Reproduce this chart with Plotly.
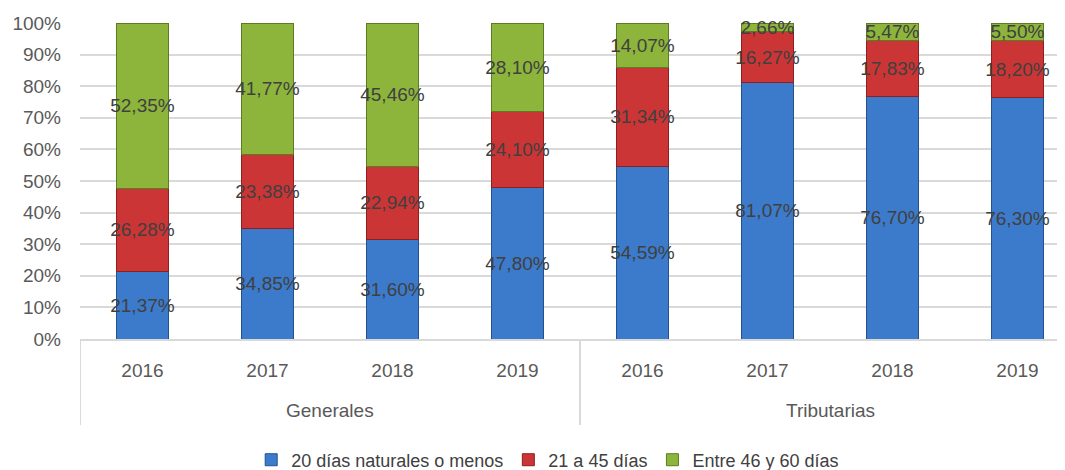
import plotly.graph_objects as go

years = ["2016", "2017", "2018", "2019", "2016", "2017", "2018", "2019"]
groups = ["Generales", "Tributarias"]
series_names = ["20 días naturales o menos", "21 a 45 días", "Entre 46 y 60 días"]
blue_vals = [21.37, 34.85, 31.60, 47.80, 54.59, 81.07, 76.70, 76.30]
red_vals = [26.28, 23.38, 22.94, 24.10, 31.34, 16.27, 17.83, 18.20]
green_vals = [52.35, 41.77, 45.46, 28.10, 14.07, 2.66, 5.47, 5.50]
y_ticks = list(range(0, 101, 10))

colors = ["#3C7BCB", "#CC3535", "#8DB53C"]
edges = ["#24518C", "#8E1F1F", "#5E7A22"]
FONT = "Liberation Sans, Arial"
TXT = "#404040"

x = list(range(len(years)))
fig = go.Figure()
for name, vals, c, e in zip(series_names, [blue_vals, red_vals, green_vals], colors, edges):
    fig.add_trace(go.Bar(
        x=x, y=vals, name=name, width=0.41,
        marker=dict(color=c, line=dict(color=e, width=1)),
        text=[f"{v:.2f}%".replace(".", ",") for v in vals],
        textposition="inside", insidetextanchor="middle", textangle=0,
        constraintext="none",
        textfont=dict(family=FONT, size=19, color=TXT),
        cliponaxis=False,
    ))

fig.update_layout(
    barmode="stack",
    width=1065, height=470,
    margin=dict(l=72, r=0, t=15, b=139, autoexpand=False),
    plot_bgcolor="white", paper_bgcolor="white",
    font=dict(family=FONT, size=19, color="#595959"),
    legend=dict(orientation="h", x=0.471, xanchor="center", y=-0.383, yanchor="middle",
                font=dict(family=FONT, size=18, color="#404040"),
                itemwidth=30, tracegroupgap=0, traceorder="normal"),
    showlegend=True,
)
fig.update_xaxes(
    range=[-0.5, 7.444], tickmode="array", tickvals=x, ticktext=years,
    showgrid=False, showline=True, linecolor="#D9D9D9", linewidth=2,
    ticks="", ticklabelstandoff=13, tickfont=dict(family=FONT, size=19, color="#595959"),
    zeroline=False, automargin=False,
)
fig.update_yaxes(
    range=[0, 100], tickmode="array", tickvals=y_ticks,
    ticktext=[f"{t}%" for t in y_ticks],
    showgrid=True, gridcolor="#D9D9D9", gridwidth=2,
    zeroline=False, showline=False, ticks="", automargin=False,
    ticklabelstandoff=18,
    tickfont=dict(family=FONT, size=19, color="#595959"),
)

# group labels and separators
for gi, g in enumerate(groups):
    fig.add_annotation(x=gi * 4 + 1.5, y=-0.225, xref="x", yref="paper", text=g,
                       yanchor="middle", xanchor="center",
                       showarrow=False, font=dict(family=FONT, size=19, color="#595959"))
for sx in [-0.5, 3.5, 7.5]:
    fig.add_shape(type="line", x0=sx, x1=sx, xref="x", yref="paper", y0=0, y1=-0.272,
                  line=dict(color="#D9D9D9", width=2))

fig.write_html("out.html")
